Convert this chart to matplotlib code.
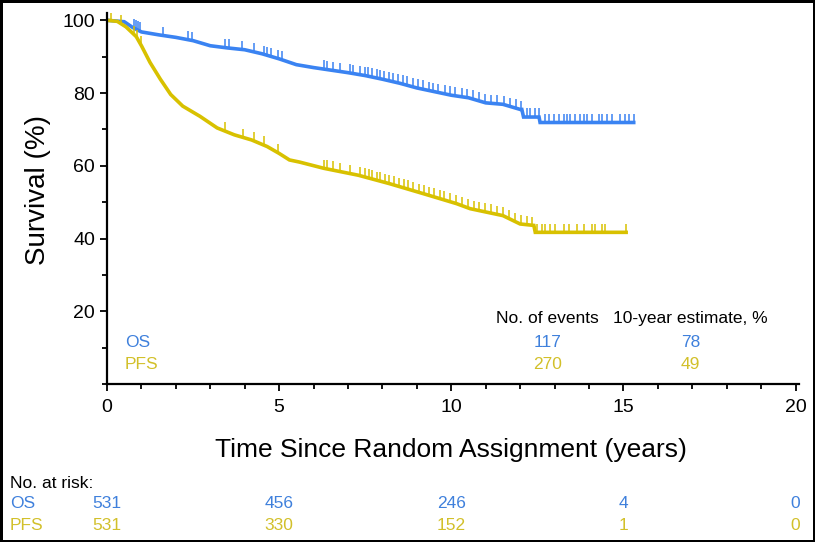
import numpy as np
import matplotlib
matplotlib.use("Agg")
import matplotlib.pyplot as plt
from matplotlib.ticker import MultipleLocator
from matplotlib import transforms

# kaplan-meier curves (years, %)
os_t = [0, 0.5, 0.75, 1.0, 1.5, 2.0, 2.5, 3.0, 3.5, 4.0, 4.5, 5.0, 5.5, 6.0, 6.5, 7.0,
        7.5, 8.0, 8.5, 9.0, 9.5, 10.0, 10.5, 11.0, 11.5, 12.0, 12.05, 12.1, 12.55, 12.58, 15.3]
os_s = [100, 99.6, 98.0, 96.8, 96.0, 95.3, 94.4, 93.0, 92.4, 91.9, 90.8, 89.4, 87.8, 87.0, 86.3, 85.6,
        84.8, 83.8, 82.7, 81.4, 80.4, 79.4, 78.7, 77.3, 76.9, 75.5, 75.5, 73.4, 73.4, 71.9, 71.9]

pfs_t = [0, 0.3, 0.55, 0.85, 1.0, 1.25, 1.55, 1.85, 2.2, 2.7, 3.2, 3.7, 4.2, 4.65, 5.0, 5.3,
         5.6, 6.3, 7.3, 8.2, 9.2, 10.15, 10.55, 11.5, 12.0, 12.4, 12.44, 15.08]
pfs_s = [100, 99.7, 98.2, 95.5, 93.0, 88.4, 83.8, 79.6, 76.4, 73.6, 70.4, 68.5, 67.1, 65.3, 63.4, 61.6,
         61.0, 59.3, 57.4, 55.1, 52.3, 49.6, 48.2, 46.3, 44.0, 43.6, 41.7, 41.7]

# censoring marks (years)
os_cens = [0.78, 0.84, 0.9, 0.96, 1.64, 2.36, 2.46, 3.43, 3.53, 3.91, 4.28, 4.56, 4.66, 4.76,
           4.98, 5.08, 6.29, 6.39, 6.56, 6.77, 7.06, 7.16, 7.35, 7.5, 7.59, 7.69, 7.83, 7.92,
           8.05, 8.18, 8.31, 8.44, 8.6, 8.71, 8.88, 9.03, 9.17, 9.34, 9.48, 9.62, 9.81, 9.95,
           10.12, 10.3, 10.46, 10.63, 10.82, 10.97, 11.15, 11.34, 11.52, 11.7, 11.88, 12.04,
           12.2, 12.3, 12.44, 12.54, 12.73, 12.83, 12.98, 13.12, 13.27, 13.36, 13.46, 13.6,
           13.75, 13.85, 13.94, 14.09, 14.28, 14.38, 14.52, 14.67, 14.91, 15.06, 15.15, 15.3]
pfs_cens = [0.12, 0.4, 0.78, 0.88, 0.98, 3.43, 3.94, 4.28, 4.56, 4.98, 6.29, 6.4, 6.56, 6.77,
            7.06, 7.35, 7.5, 7.6, 7.7, 7.84, 7.94, 8.08, 8.2, 8.33, 8.47, 8.62, 8.75, 8.9,
            9.06, 9.2, 9.36, 9.5, 9.66, 9.8, 9.97, 10.14, 10.31, 10.48, 10.65, 10.8, 10.98,
            11.16, 11.33, 11.5, 11.68, 11.85, 12.02, 12.2, 12.35, 12.49, 12.64, 12.73, 12.88,
            13.02, 13.27, 13.41, 13.65, 13.85, 14.09, 14.19, 14.38, 14.48, 15.08]

# tables
groups = ["OS", "PFS"]
n_events = ["117", "270"]
est_10y = ["78", "49"]
risk_times = [0, 5, 10, 15, 20]
os_risk = ["531", "456", "246", "4", "0"]
pfs_risk = ["531", "330", "152", "1", "0"]

blue = "#3a83f2"
yellow = "#d8c100"
blue_txt = "#3f80dc"
yellow_txt = "#d2c02a"

plt.rcParams["font.family"] = ["Liberation Sans", "DejaVu Sans"]

fig = plt.figure(figsize=(8.15, 5.42), dpi=100, linewidth=2.5, edgecolor="black")
ax = fig.add_axes([0.1313, 0.2915, 0.849, 0.6845])

ax.plot(os_t, os_s, color=blue, lw=2.6, solid_joinstyle="miter")
ax.plot(pfs_t, pfs_s, color=yellow, lw=2.6, solid_joinstyle="miter")

# censor ticks sit on top of the curve
oc = np.interp(os_cens, os_t, os_s)
pc = np.interp(pfs_cens, pfs_t, pfs_s)
ax.vlines(os_cens, oc, oc + 2.4, color=blue, lw=1.1)
ax.vlines(pfs_cens, pc, pc + 2.4, color=yellow, lw=1.1)

ax.set_xlim(0, 20.1)
ax.set_ylim(0, 102)
ax.spines["top"].set_visible(False)
ax.spines["right"].set_visible(False)
for s in ["left", "bottom"]:
    ax.spines[s].set_linewidth(1.6)

ax.xaxis.set_major_locator(MultipleLocator(5))
ax.xaxis.set_minor_locator(MultipleLocator(1))
ax.set_yticks([20, 40, 60, 80, 100])
ax.yaxis.set_minor_locator(MultipleLocator(10))
ax.tick_params(which="major", length=5, width=1.3, labelsize=14, direction="out")
ax.tick_params(which="minor", length=3.5, width=1.3, direction="out")
ax.tick_params(axis="x", pad=6)

fig.text(0.047, 0.649, "Survival (%)", rotation=90, ha="center", va="center", fontsize=20)
fig.text(0.553, 1 - 450 / 542, "Time Since Random Assignment (years)", ha="center", va="center",
         fontsize=19)

# events table inside the plot
ax.text(12.8, 17.9, "No. of events", ha="center", va="center", fontsize=12.5)
ax.text(16.95, 17.9, "10-year estimate, %", ha="center", va="center", fontsize=12.5)
row_y = [11.5, 5.5]
cols = [blue_txt, yellow_txt]
for g, e, p, y, c in zip(groups, n_events, est_10y, row_y, cols):
    ax.text(0.52, y, g, ha="left", va="center", fontsize=12.5, color=c)
    ax.text(12.8, y, e, ha="center", va="center", fontsize=12.5, color=c)
    ax.text(16.95, y, p, ha="center", va="center", fontsize=12.5, color=c)

# number at risk below
trans = transforms.blended_transform_factory(ax.transData, fig.transFigure)
fig.text(0.012, 1 - 483 / 542, "No. at risk:", ha="left", va="center", fontsize=12.5)
fig.text(0.012, 1 - 504 / 542, "OS", ha="left", va="center", fontsize=12.5, color=blue_txt)
fig.text(0.012, 1 - 525 / 542, "PFS", ha="left", va="center", fontsize=12.5, color=yellow_txt)
for t, a, b in zip(risk_times, os_risk, pfs_risk):
    ax.text(t, 1 - 504 / 542, a, transform=trans, ha="center", va="center", fontsize=12.5,
            color=blue_txt)
    ax.text(t, 1 - 525 / 542, b, transform=trans, ha="center", va="center", fontsize=12.5,
            color=yellow_txt)

fig.savefig("out.png", dpi=100)
